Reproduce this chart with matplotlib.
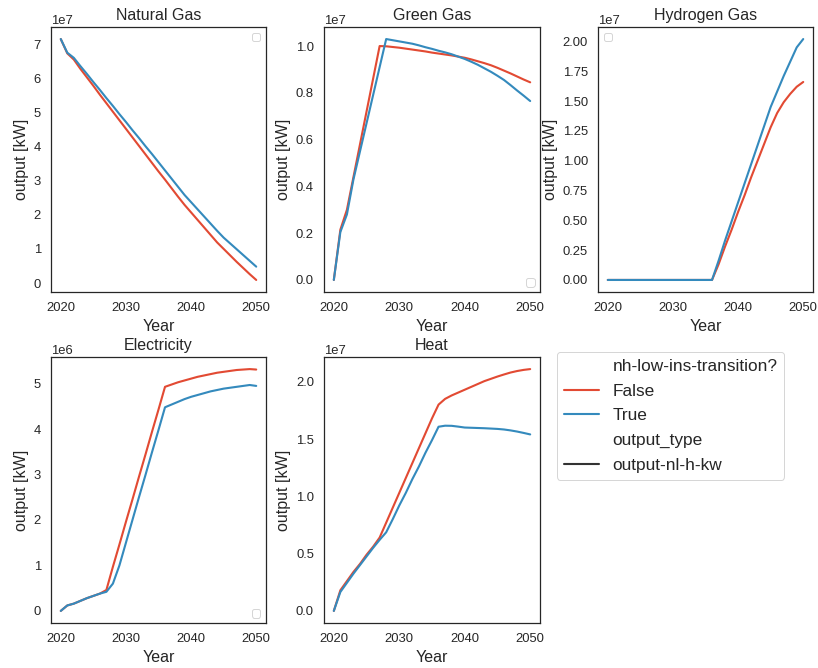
import numpy as np
import matplotlib
matplotlib.use("Agg")
import matplotlib.pyplot as plt
import seaborn as sns
from matplotlib.lines import Line2D

sns.set_theme(style="white")
plt.rcParams['font.family'] = ['Liberation Sans', 'DejaVu Sans']
plt.rcParams['text.color'] = '.15'
plt.rcParams['axes.labelcolor'] = '.15'
plt.rcParams['xtick.color'] = '.15'
plt.rcParams['ytick.color'] = '.15'

years = np.arange(2020, 2051)

# values (scaled below: 1e7 / 1e6)
natgas_false = [7.15, 6.73, 6.55, 6.28, 6.03, 5.78, 5.52, 5.27, 5.02, 4.77, 4.52,
                4.27, 4.02, 3.77, 3.52, 3.27, 3.03, 2.78, 2.53, 2.29, 2.07,
                1.85, 1.63, 1.41, 1.19, 1.00, 0.81, 0.62, 0.44, 0.26, 0.09]
natgas_true = [7.15, 6.75, 6.60, 6.36, 6.13, 5.89, 5.66, 5.42, 5.19, 4.95, 4.72,
               4.48, 4.25, 4.01, 3.78, 3.54, 3.30, 3.06, 2.82, 2.58, 2.37,
               2.16, 1.95, 1.74, 1.53, 1.33, 1.16, 0.99, 0.82, 0.65, 0.48]

green_false = [0.0, 0.215, 0.30, 0.44, 0.58, 0.72, 0.86, 1.0, 0.999, 0.996, 0.993,
               0.989, 0.985, 0.981, 0.977, 0.972, 0.968, 0.964, 0.960, 0.955, 0.950,
               0.943, 0.935, 0.927, 0.918, 0.907, 0.895, 0.883, 0.870, 0.857, 0.845]
green_true = [0.0, 0.205, 0.28, 0.43, 0.55, 0.67, 0.79, 0.91, 1.03, 1.025, 1.02,
              1.015, 1.01, 1.003, 0.995, 0.988, 0.98, 0.973, 0.965, 0.955, 0.945,
              0.933, 0.92, 0.905, 0.89, 0.873, 0.855, 0.833, 0.81, 0.788, 0.765]

hydrogen_false = [0.0] * 17 + [0.13, 0.28, 0.42, 0.57, 0.71, 0.86, 1.0, 1.14,
                               1.28, 1.40, 1.49, 1.56, 1.62, 1.66]
hydrogen_true = [0.0] * 17 + [0.16, 0.33, 0.49, 0.65, 0.81, 0.97, 1.13, 1.29,
                              1.45, 1.58, 1.71, 1.83, 1.95, 2.02]

elec_false = [0.0, 0.12, 0.16, 0.22, 0.28, 0.33, 0.38, 0.46, 0.97, 1.46, 1.96,
              2.45, 2.95, 3.44, 3.94, 4.43, 4.93, 4.98, 5.03, 5.07, 5.11,
              5.15, 5.18, 5.21, 5.24, 5.26, 5.28, 5.30, 5.31, 5.32, 5.31]
elec_true = [0.0, 0.12, 0.16, 0.22, 0.28, 0.33, 0.38, 0.42, 0.60, 1.0, 1.5,
             2.0, 2.5, 2.99, 3.49, 3.98, 4.48, 4.54, 4.6, 4.66, 4.71,
             4.75, 4.79, 4.83, 4.86, 4.89, 4.91, 4.93, 4.95, 4.97, 4.95]

heat_false = [0.0, 0.18, 0.26, 0.34, 0.41, 0.49, 0.56, 0.64, 0.77, 0.90, 1.03,
              1.16, 1.29, 1.42, 1.55, 1.68, 1.80, 1.85, 1.88, 1.905, 1.93,
              1.955, 1.98, 2.005, 2.025, 2.045, 2.063, 2.08, 2.093, 2.103, 2.11]
heat_true = [0.0, 0.165, 0.245, 0.325, 0.40, 0.475, 0.55, 0.62, 0.686, 0.80, 0.92,
             1.03, 1.15, 1.26, 1.38, 1.49, 1.607, 1.616, 1.615, 1.608, 1.60,
             1.598, 1.596, 1.594, 1.591, 1.588, 1.583, 1.575, 1.565, 1.553, 1.54]

titles = ["Natural Gas", "Green Gas", "Hydrogen Gas", "Electricity", "Heat"]
scales = [1e7, 1e7, 1e7, 1e6, 1e7]
series = [(natgas_false, natgas_true), (green_false, green_true),
          (hydrogen_false, hydrogen_true), (elec_false, elec_true),
          (heat_false, heat_true)]
empty_legend_loc = ["upper right", "lower right", "upper left", "lower right", None]

red = '#E24A33'
blue = '#348ABD'

fig = plt.figure(figsize=(818 / 72, 668 / 72), dpi=72)
W, H = 818, 668
boxes = [(51, 27, 266, 292), (324, 27, 540, 292), (598, 27, 813, 292),
         (51, 357, 266, 623), (324, 357, 540, 623)]

for i, (l, t, r, b) in enumerate(boxes):
    ax = fig.add_axes([l / W, 1 - b / H, (r - l) / W, (b - t) / H])
    f, tr = series[i]
    ax.plot(years, np.array(f) * scales[i], color=red, lw=2.1)
    ax.plot(years, np.array(tr) * scales[i], color=blue, lw=2.1)
    ax.set_title(titles[i], fontsize=16, pad=7)
    ax.set_xlabel("Year", fontsize=16, labelpad=5)
    ax.set_ylabel("output [kW]", fontsize=16, labelpad=5)
    ax.tick_params(labelsize=13, pad=4)
    ax.yaxis.get_offset_text().set_fontsize(13)
    ax.set_xticks([2020, 2030, 2040, 2050])
    for s in ax.spines.values():
        s.set_color('.15')
        s.set_linewidth(1.25)
    if empty_legend_loc[i]:
        ax.legend(handles=[], loc=empty_legend_loc[i], fontsize=11)

handles = [Line2D([], [], color='none'),
           Line2D([], [], color=red, lw=2.1),
           Line2D([], [], color=blue, lw=2.1),
           Line2D([], [], color='none'),
           Line2D([], [], color='.2', lw=2.1)]
labels = ["nh-low-ins-transition?", "False", "True", "output_type", "output-nl-h-kw"]
fig.legend(handles, labels, loc='upper left', bbox_to_anchor=(557 / W, 1 - 352 / H),
           fontsize=17.3, frameon=True, borderaxespad=0, labelspacing=0.55)

fig.savefig("out.png", dpi=72)
